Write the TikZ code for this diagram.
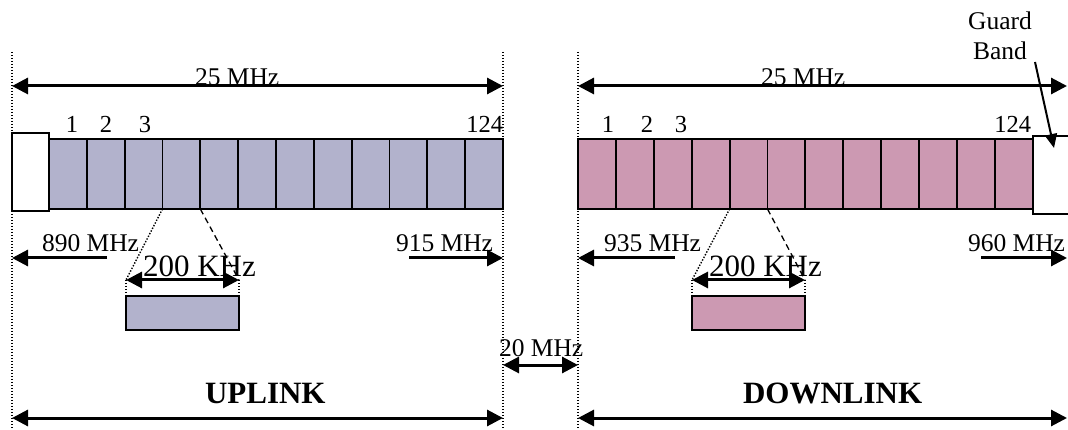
\documentclass[tikz,border=0pt]{standalone}
\usepackage{fontspec}
\setmainfont{Liberation Serif}
\usetikzlibrary{arrows.meta}
\definecolor{upfill}{RGB}{178,178,204}
\definecolor{downfill}{RGB}{204,153,178}

\tikzset{
  cell/.style={draw, line width=1.8pt, inner sep=0pt, outer sep=0pt,
    minimum width=37.83pt, minimum height=70pt, anchor=north west},
  plainbox/.style={draw, line width=1.8pt, fill=white, inner sep=0pt, outer sep=0pt, anchor=north west},
  lbl/.style={inner sep=0pt, outer sep=0pt, font=\fontsize{25.5}{30}\selectfont},
  numlbl/.style={inner sep=0pt, outer sep=0pt, font=\fontsize{24.5}{28}\selectfont},
  biglbl/.style={inner sep=0pt, outer sep=0pt, font=\fontsize{31}{36}\selectfont},
  boldlbl/.style={inner sep=0pt, outer sep=0pt, font=\fontsize{31}{36}\selectfont\bfseries},
  dim/.style={line width=3pt,
    {Triangle[length=16pt,width=16pt]}-{Triangle[length=16pt,width=16pt]}},
  onearrow/.style={line width=3pt, -{Triangle[length=16pt,width=16pt]}},
  guide/.style={line width=1.4pt, dash pattern=on 1.4pt off 1.6pt},
  zoomdash/.style={line width=1.3pt, dash pattern=on 6pt off 4pt},
}

\begin{document}
\begin{tikzpicture}[x=1pt,y=-1pt]
\useasboundingbox (0,0) rectangle (1068,430);

% dotted band edges
\coordinate (e1t) at (12,52);   \coordinate (e1b) at (12,432);
\coordinate (e2t) at (503,52);  \coordinate (e2b) at (503,432);
\coordinate (e3t) at (578,52);  \coordinate (e3b) at (578,432);
\draw[guide] (e1t) -- (e1b);
\draw[guide] (e2t) -- (e2b);
\draw[guide] (e3t) -- (e3b);

% ---------------- uplink ----------------
\node[plainbox, minimum width=37pt, minimum height=78pt] (ugap) at (12,133) {};
\foreach \i in {1,...,12}
  \node[cell, fill=upfill] (u\i) at ({49+(\i-1)*37.83},139) {};

\node[lbl, anchor=base west] (u25) at (195,86) {25 MHz};
\coordinate (u25a) at (12,86); \coordinate (u25b) at (503,86);
\draw[dim] (u25a) -- (u25b);

\node[numlbl, anchor=base] (un1) at (72,133) {1};
\node[numlbl, anchor=base] (un2) at (106,133) {2};
\node[numlbl, anchor=base] (un3) at (145,133) {3};
\node[numlbl, anchor=base east] (un124) at (503,133) {124};

\node[lbl, anchor=base west] (u890) at (42,252) {890 MHz};
\coordinate (u890s) at (107,258); \coordinate (u890e) at (12,258);
\draw[onearrow] (u890s) -- (u890e);
\node[lbl, anchor=base west] (u915) at (396,252) {915 MHz};
\coordinate (u915s) at (409,258); \coordinate (u915e) at (503,258);
\draw[onearrow] (u915s) -- (u915e);

% one channel, enlarged
\node[plainbox, fill=upfill, minimum width=113pt, minimum height=34pt] (uch) at (126,296) {};
\coordinate (uchl) at (126,280); \coordinate (uchr) at (239,280);
\draw[guide] (u4.south west) -- (uchl);
\draw[zoomdash] (u5.south west) -- (uchr);
\draw[guide] (uchl) -- (uch.north west);
\draw[guide] (uchr) -- (uch.north east);
\node[biglbl, anchor=base west] (u200) at (143,277) {200 KHz};
\draw[dim] (uchl) -- (uchr);

\node[boldlbl, anchor=base west] (uplink) at (205,403) {UPLINK};
\coordinate (ula) at (12,418); \coordinate (ulb) at (503,418);
\draw[dim] (ula) -- (ulb);

% ---------------- duplex gap ----------------
\node[lbl, anchor=base west] (gap20) at (499,356) {20 MHz};
\coordinate (g20a) at (503,365); \coordinate (g20b) at (578,365);
\draw[dim] (g20a) -- (g20b);

% ---------------- downlink ----------------
\foreach \i in {1,...,12}
  \node[cell, fill=downfill] (d\i) at ({578+(\i-1)*37.9},139) {};
\node[plainbox, minimum width=40pt, minimum height=78pt] (dgap) at (1033,136) {};

\node[lbl, anchor=base west] (d25) at (761,86) {25 MHz};
\coordinate (d25a) at (578,86); \coordinate (d25b) at (1067,86);
\draw[dim] (d25a) -- (d25b);

\node[numlbl, anchor=base] (dn1) at (608,133) {1};
\node[numlbl, anchor=base] (dn2) at (647,133) {2};
\node[numlbl, anchor=base] (dn3) at (681,133) {3};
\node[numlbl, anchor=base east] (dn124) at (1031,133) {124};

\node[lbl, anchor=base] (guard) at (1000,30) {Guard};
\node[lbl, anchor=base] (band) at (1000,60) {Band};
\coordinate (gbs) at (1035,62); \coordinate (gbe) at (1054,148);
\draw[line width=2pt, -{Triangle[length=14pt,width=12pt]}] (gbs) -- (gbe);

\node[lbl, anchor=base west] (d935) at (604,252) {935 MHz};
\coordinate (d935s) at (675,258); \coordinate (d935e) at (578,258);
\draw[onearrow] (d935s) -- (d935e);
\node[lbl, anchor=base west] (d960) at (968,252) {960 MHz};
\coordinate (d960s) at (981,258); \coordinate (d960e) at (1067,258);
\draw[onearrow] (d960s) -- (d960e);

\node[plainbox, fill=downfill, minimum width=113pt, minimum height=34pt] (dch) at (692,296) {};
\coordinate (dchl) at (692,280); \coordinate (dchr) at (805,280);
\draw[guide] (d5.south west) -- (dchl);
\draw[zoomdash] (d6.south west) -- (dchr);
\draw[guide] (dchl) -- (dch.north west);
\draw[guide] (dchr) -- (dch.north east);
\node[biglbl, anchor=base west] (d200) at (709,277) {200 KHz};
\draw[dim] (dchl) -- (dchr);

\node[boldlbl, anchor=base west] (downlink) at (743,403) {DOWNLINK};
\coordinate (dla) at (578,418); \coordinate (dlb) at (1067,418);
\draw[dim] (dla) -- (dlb);
\end{tikzpicture}
\end{document}
